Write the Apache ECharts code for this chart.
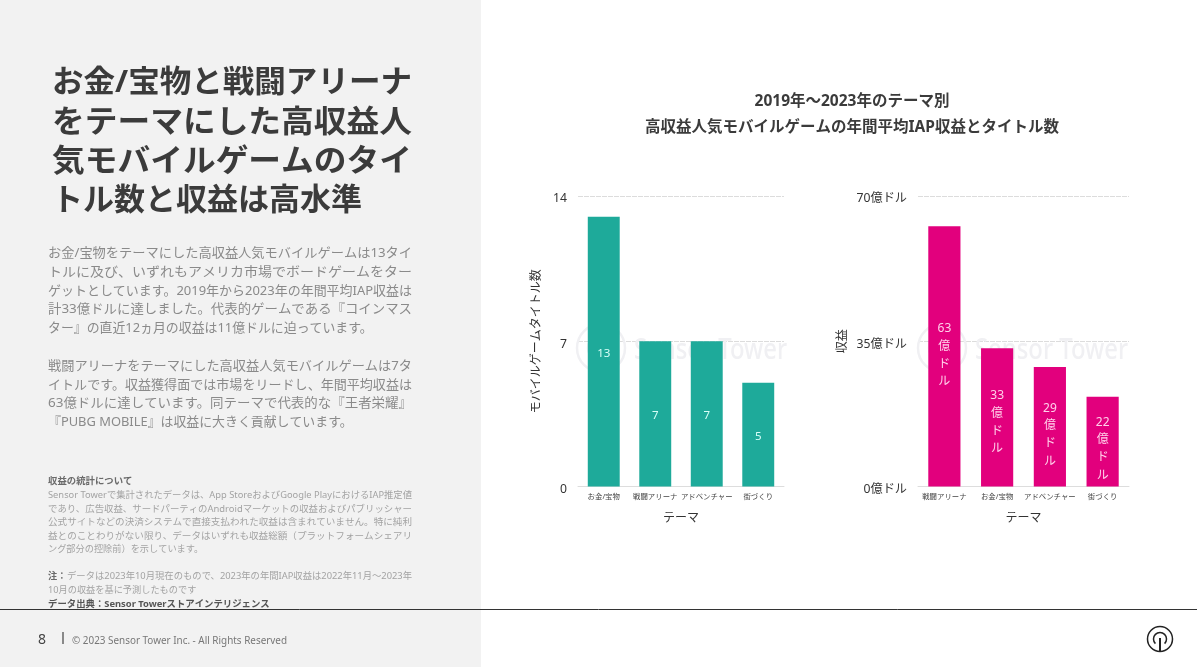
<!DOCTYPE html>
<html><head><meta charset="utf-8">
<style>html,body{margin:0;padding:0;background:#fff}#c{width:1197px;height:667px}</style>
<script src="https://cdn.jsdelivr.net/npm/echarts@6/dist/echarts.min.js"></script>
</head><body><div id="c"></div>
<script>
const FONT='"Noto Sans","Noto Sans CJK JP",sans-serif';
const titleCategories=['お金/宝物','戦闘アリーナ','アドベンチャー','街づくり'];
const titleCounts=[13,7,7,5];
const revenueCategories=['戦闘アリーナ','お金/宝物','アドベンチャー','街づくり'];
const revenueValues=[62.7,33.3,28.8,21.6];
const revenueLabelNudge=[-1,5,8,7];
const headline=['お金/宝物と戦闘アリーナ','をテーマにした高収益人','気モバイルゲームのタイ','トル数と収益は高水準'];
const bodyA=['お金/宝物をテーマにした高収益人気モバイルゲームは13タイ','トルに及び、いずれもアメリカ市場でボードゲームをター','ゲットとしています。2019年から2023年の年間平均IAP収益は','計33億ドルに達しました。代表的ゲームである『コインマス','ター』の直近12ヵ月の収益は11億ドルに迫っています。'];
const bodyB=['戦闘アリーナをテーマにした高収益人気モバイルゲームは7タ','イトルです。収益獲得面では市場をリードし、年間平均収益は','63億ドルに達しています。同テーマで代表的な『王者栄耀』','『PUBG MOBILE』は収益に大きく貢献しています。'];
const noteLines=['Sensor Towerで集計されたデータは、App StoreおよびGoogle PlayにおけるIAP推定値','であり、広告収益、サードパーティのAndroidマーケットの収益およびパブリッシャー','公式サイトなどの決済システムで直接支払われた収益は含まれていません。特に純利','益とのことわりがない限り、データはいずれも収益総額（プラットフォームシェアリ','ング部分の控除前）を示しています。'];

const measureCtx=document.createElement('canvas').getContext('2d');
function txt(x,y,s,size,color,weight,align,z,fit){
  let sx=1;
  if(fit){
    measureCtx.font=(weight||400)+' '+size+'px '+FONT;
    sx=fit/measureCtx.measureText(s).width;
  }
  const dy=size>13.5?2:1;
  return {type:'text',x:x,y:y+dy,z:z||10,scaleX:sx,silent:true,style:{text:s,fontFamily:FONT,fontSize:size,fill:color,fontWeight:weight||400,textAlign:align||'left',textVerticalAlign:'middle'}};
}
const g=[];
g.push({type:'rect',z:0,silent:true,shape:{x:0,y:0,width:481,height:667},style:{fill:'#f2f2f2'}});
headline.forEach((s,i)=>g.push(txt(52,[81,121,160,199][i],s,31,'#3b3b3b',700,'left',10,i<3?360:0)));
bodyA.forEach((s,i)=>g.push(txt(48,[252,271,290,308,327][i],s,12.9,'#8a8a8a',400,'left',10,i<4?364:0)));
bodyB.forEach((s,i)=>g.push(txt(48,[365,384,402,421][i],s,12.9,'#8a8a8a',400,'left',10,i<3?364:0)));
g.push(txt(48,480,'収益の統計について',9.4,'#6a6a6a',700));
noteLines.forEach((s,i)=>g.push(txt(48,[494,508,521,535,548][i],s,9.2,'#a3a3a3',400,'left',10,i<4?364:0)));
g.push(txt(48,575,'注：',9.2,'#6a6a6a',700));
g.push(txt(67,575,'データは2023年10月現在のもので、2023年の年間IAP収益は2022年11月～2023年',9.2,'#a3a3a3',400,'left',10,345));
g.push(txt(48,589,'10月の収益を基に予測したものです',9.2,'#a3a3a3'));
g.push(txt(48,603,'データ出典：Sensor Towerストアインテリジェンス',9.4,'#555',700));
g.push({type:'line',z:10,silent:true,shape:{x1:0,y1:609.5,x2:1197,y2:609.5},style:{stroke:'#333',lineWidth:1}});
g.push(txt(38,638,'8',14,'#444'));
g.push({type:'line',z:10,silent:true,shape:{x1:63,y1:632,x2:63,y2:644},style:{stroke:'#666',lineWidth:1.5}});
g.push(txt(72,640,'© 2023 Sensor Tower Inc. - All Rights Reserved',10.2,'#777','400','left',10,215));
g.push(txt(852,100,'2019年～2023年のテーマ別',15.5,'#3b3b3b',700,'center'));
g.push(txt(852,126,'高収益人気モバイルゲームの年間平均IAP収益とタイトル数',15.5,'#3b3b3b',700,'center'));
// watermarks
[[601,348],[942,348]].forEach(p=>{
  g.push({type:'circle',z:1,silent:true,shape:{cx:p[0],cy:p[1],r:24},style:{fill:'none',stroke:'#f0f0f3',lineWidth:2.5}});
  g.push({type:'circle',z:1,silent:true,shape:{cx:p[0],cy:p[1],r:13},style:{fill:'none',stroke:'#f0f0f3',lineWidth:2.5}});
  g.push(txt(p[0]+33,p[1]+1,'Sensor Tower',29,'#f0f0f3',500,'left',1,153));
});
// logo
g.push({type:'circle',z:10,silent:true,shape:{cx:1160,cy:639,r:12.5},style:{fill:'none',stroke:'#222',lineWidth:1.5}});
g.push({type:'arc',z:10,silent:true,shape:{cx:1160,cy:639,r:6.5,startAngle:Math.PI*0.75,endAngle:Math.PI*0.25},style:{fill:'none',stroke:'#222',lineWidth:1.5}});
g.push({type:'line',z:10,silent:true,shape:{x1:1160,y1:638,x2:1160,y2:651},style:{stroke:'#222',lineWidth:2}});

function xAxis(cats,idx){
  return {type:'category',gridIndex:idx,data:cats,name:'テーマ',nameLocation:'middle',nameGap:26,
    nameTextStyle:{fontFamily:FONT,fontSize:12,color:'#333'},
    axisTick:{show:false},axisLine:{lineStyle:{color:'#ddd'}},
    axisLabel:{fontFamily:FONT,fontSize:7.4,color:'#444',margin:7,interval:0}};
}
function yAxis(idx,max,interval,name,gap,fmt){
  return {type:'value',gridIndex:idx,min:0,max:max,interval:interval,name:name,nameLocation:'middle',nameGap:gap,nameRotate:90,
    nameTextStyle:{fontFamily:FONT,fontSize:12,color:'#333'},
    axisLine:{show:false},axisTick:{show:false},
    splitLine:{lineStyle:{color:'#dcdcdc',type:[5,1]}},
    axisLabel:{fontFamily:FONT,fontSize:12.2,color:'#333',margin:11,verticalAlign:'top',lineHeight:6,formatter:fmt}};
}
const chart=echarts.init(document.getElementById('c'),null,{renderer:'canvas'});
chart.setOption({
  animation:false,
  graphic:{elements:g},
  grid:[{left:578,top:196,width:206,height:290.5},{left:918,top:196,width:211,height:290.5}],
  xAxis:[xAxis(titleCategories,0),xAxis(revenueCategories,1)],
  yAxis:[yAxis(0,14,7,'モバイルゲームタイトル数',35,'{value}'),yAxis(1,70,35,'収益',69,'{value}億ドル')],
  series:[
    {type:'bar',xAxisIndex:0,yAxisIndex:0,data:titleCounts,barWidth:'62%',z:3,
     itemStyle:{color:'#1eaa9a'},
     label:{show:true,position:'inside',offset:[0,2],fontFamily:FONT,fontSize:11.5,color:'#d8fff8'}},
    {type:'bar',xAxisIndex:1,yAxisIndex:1,barWidth:'61%',z:3,
     data:revenueValues.map((v,i)=>({value:v,label:{offset:[0,revenueLabelNudge[i]]}})),
     itemStyle:{color:'#e2007d'},
     label:{show:true,position:'inside',fontFamily:FONT,fontSize:12,lineHeight:17.6,color:'#ffd0ea',
       formatter:p=>Math.round(p.value)+'\n億\nド\nル'}}
  ]
});
</script></body></html>
